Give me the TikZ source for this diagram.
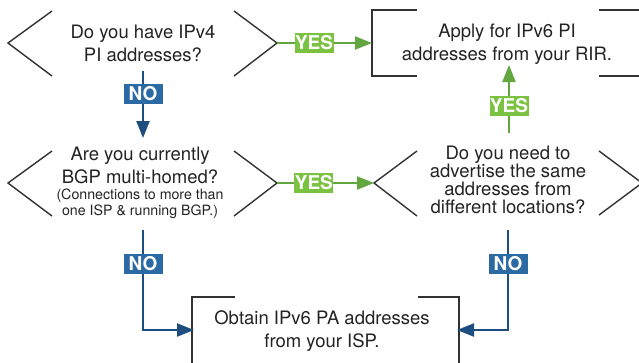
\documentclass[tikz,border=0pt]{standalone}
\usepackage{fontspec}
\setmainfont{TeX Gyre Heros}
\usetikzlibrary{arrows.meta}
\definecolor{linegray}{RGB}{50,50,50}
\definecolor{txt}{RGB}{35,35,35}
\definecolor{greenline}{RGB}{98,166,64}
\definecolor{yesfill}{RGB}{124,194,66}
\definecolor{blueline}{RGB}{30,78,128}
\definecolor{nofill}{RGB}{44,106,164}
\begin{document}
\begin{tikzpicture}[x=1pt,y=-1pt,
  shapeline/.style={draw=linegray, line width=1.4pt},
  yesline/.style={draw=greenline, line width=2.2pt, -{Triangle[length=17pt,width=13pt]}},
  noline/.style={draw=blueline, line width=2.2pt, -{Triangle[length=17pt,width=13pt]}},
  lab/.style={text=white, font=\fontsize{19}{19}\bfseries\selectfont, inner sep=0pt, minimum width=39pt, minimum height=20pt},
  yeslab/.style={lab, fill=yesfill},
  nolab/.style={lab, fill=nofill},
  qtext/.style={align=center, text=txt, font=\fontsize{18.5}{23}\selectfont, inner sep=0pt},
  notetext/.style={align=center, text=txt, font=\fontsize{14.2}{16}\selectfont, inner sep=0pt}
]
\useasboundingbox (0,0) rectangle (639,362);
\clip (0,0) rectangle (639,362);

% diamond 1
\draw[shapeline] (52,11) -- (8,43) -- (52,76);
\draw[shapeline] (234,11) -- (277,43) -- (234,76);
\node[qtext] (q1) at (143,43) {Do you have IPv4\\PI addresses?};

% box 1
\draw[shapeline] (417,10) -- (372,10) -- (372,76) -- (417,76);
\draw[shapeline] (599,10) -- (650,10);
\draw[shapeline] (599,76) -- (650,76);
\node[qtext] (a1) at (507,44) {Apply for IPv6 PI\\addresses from your RIR.};

% diamond 2
\draw[shapeline] (52,151) -- (8,183) -- (52,216);
\draw[shapeline] (234,151) -- (277,183) -- (234,216);
\node[qtext] (q2) at (140,165) {Are you currently\\BGP multi-homed?};
\node[notetext] (q2n) at (140,204) {(Connections to more than\\one ISP \& running BGP.)};

% diamond 3
\draw[shapeline] (417,151) -- (374,183) -- (417,216);
\draw[shapeline] (599,151) -- (642,183) -- (599,215);
\node[qtext, font=\fontsize{18.5}{18}\selectfont] (q3) at (508,180) {Do you need to\\advertise the same\\addresses from\\different locations?};

% box 3
\draw[shapeline] (235,297) -- (192,297) -- (192,370);
\draw[shapeline] (418,297) -- (459,297) -- (459,370);
\node[qtext] (a3) at (322,331) {Obtain IPv6 PA addresses\\from your ISP.};

% connector end points
\coordinate (d1r) at (277,43);
\coordinate (b1l) at (372,43);
\coordinate (d1b) at (143,71);
\coordinate (d2t) at (143,138);
\coordinate (d2r) at (277,183);
\coordinate (d3l) at (374,183);
\coordinate (d3t) at (509,133);
\coordinate (b1b) at (509,65);
\coordinate (d2b) at (143,230);
\coordinate (b3l) at (194,330);
\coordinate (d3b) at (508,230);
\coordinate (b3r) at (457,330);

% connectors
\draw[yesline] (d1r) -- (b1l) node[yeslab, pos=0.39] (y1) {YES};
\draw[yesline] (d2r) -- (d3l) node[yeslab, pos=0.38] (y2) {YES};
\draw[yesline] (d3t) -- (b1b) node[yeslab, pos=0.4] (y3) {YES};
\draw[noline] (d1b) -- (d2t) node[nolab, pos=0.34] (n1) {NO};
\draw[noline] (d2b) |- (b3l) node[nolab, pos=0.17] (n2) {NO};
\draw[noline] (d3b) |- (b3r) node[nolab, pos=0.17] (n3) {NO};
\end{tikzpicture}
\end{document}
